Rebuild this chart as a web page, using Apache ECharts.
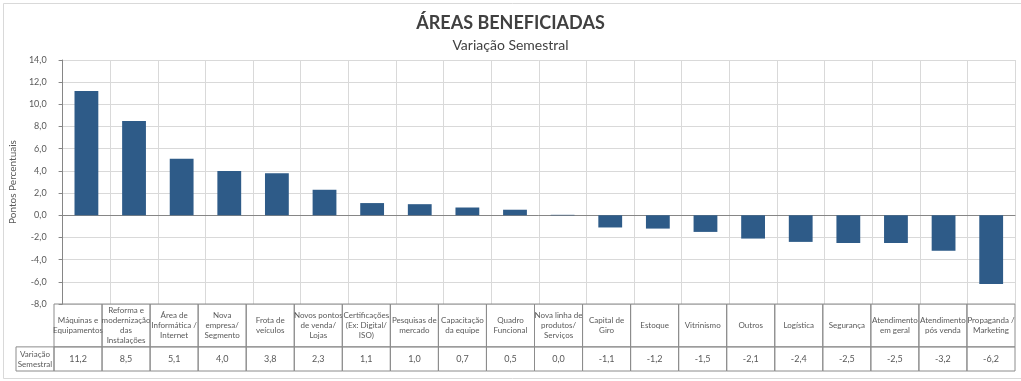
<!DOCTYPE html>
<html>
<head>
<meta charset="utf-8">
<script src="https://cdn.jsdelivr.net/npm/echarts@6/dist/echarts.min.js"></script>
<style>
html,body{margin:0;padding:0;background:#fff;}
#c{width:1021px;height:381px;}
</style>
</head>
<body>
<div id="c"></div>
<script>
const categories = [
  'Máquinas e\nEquipamentos',
  'Reforma e\nmodernização\ndas\nInstalações',
  'Área de\nInformática /\nInternet',
  'Nova\nempresa/\nSegmento',
  'Frota de\nveículos',
  'Novos pontos\nde venda/\nLojas',
  'Certificações\n(Ex: Digital/\nISO)',
  'Pesquisas de\nmercado',
  'Capacitação\nda equipe',
  'Quadro\nFuncional',
  'Nova linha de\nprodutos/\nServiços',
  'Capital de\nGiro',
  'Estoque',
  'Vitrinismo',
  'Outros',
  'Logística',
  'Segurança',
  'Atendimento\nem geral',
  'Atendimento\npós venda',
  'Propaganda /\nMarketing'
];
const variacao = [11.2, 8.5, 5.1, 4.0, 3.8, 2.3, 1.1, 1.0, 0.7, 0.5, 0.04, -1.1, -1.2, -1.5, -2.1, -2.4, -2.5, -2.5, -3.2, -6.2];
const seriesName = 'Variação\nSemestral';
const titleText = 'ÁREAS BENEFICIADAS';
const subtitleText = 'Variação Semestral';
const yAxisName = 'Pontos Percentuais';
const yMin = -8, yMax = 14, yStep = 2;

const FONT = 'Lato, "Liberation Sans", sans-serif';
const fmt = v => v.toFixed(1).replace('.', ',');

const chart = echarts.init(document.getElementById('c'), null, {renderer: 'canvas'});

const tableData = categories.map((c, i) => [i, c, variacao[i]]);
const VALUE_ROW = 0.36; // fraction of the table height used by the value row

chart.setOption({
  animation: false,
  backgroundColor: '#ffffff',
  graphic: [{
    type: 'rect', left: 1, top: 1,
    shape: {width: 1018, height: 375},
    style: {fill: 'none', stroke: '#D9D9D9', lineWidth: 1}
  }],
  title: {
    text: titleText,
    subtext: subtitleText,
    left: 'center',
    top: 9,
    itemGap: 6,
    textStyle: {fontFamily: FONT, fontSize: 18, fontWeight: 'bold', color: '#404040'},
    subtextStyle: {fontFamily: FONT, fontSize: 14, color: '#404040'}
  },
  grid: [
    {left: 54, right: 6, top: 60, bottom: 77},
    {left: 54, right: 6, top: 304, height: 67}
  ],
  xAxis: [
    {
      gridIndex: 0, type: 'category', data: categories,
      axisLine: {onZero: true, lineStyle: {color: '#868686', width: 1}},
      axisTick: {show: false},
      axisLabel: {show: false},
      splitLine: {show: true, interval: 0, lineStyle: {color: '#D9D9D9'}}
    },
    {
      gridIndex: 1, type: 'category', data: categories,
      axisLine: {show: false}, axisTick: {show: false}, axisLabel: {show: false},
      splitLine: {show: false}
    }
  ],
  yAxis: [
    {
      gridIndex: 0, type: 'value', min: yMin, max: yMax, interval: yStep,
      name: yAxisName, nameLocation: 'middle', nameGap: 31, nameRotate: 90,
      nameTextStyle: {fontFamily: FONT, fontSize: 10, color: '#595959'},
      axisLine: {show: true, lineStyle: {color: '#868686'}},
      axisTick: {show: true, length: 4, lineStyle: {color: '#868686'}},
      axisLabel: {fontFamily: FONT, fontSize: 9, color: '#595959', margin: 16, formatter: v => fmt(v)},
      splitLine: {show: true, lineStyle: {color: '#D9D9D9'}}
    },
    {
      gridIndex: 1, type: 'value', min: 0, max: 1,
      axisLine: {show: false}, axisTick: {show: false}, axisLabel: {show: false}, splitLine: {show: false}
    }
  ],
  series: [
    {
      type: 'bar', xAxisIndex: 0, yAxisIndex: 0,
      data: variacao, barWidth: '50%',
      itemStyle: {color: '#2E5B88'}
    },
    {
      type: 'custom', xAxisIndex: 1, yAxisIndex: 1,
      data: tableData,
      encode: {x: 0, y: -1},
      renderItem: function (params, api) {
        const i = api.value(0);
        const top = api.coord([i, 1]);
        const split = api.coord([i, VALUE_ROW]);
        const bot = api.coord([i, 0]);
        const w = api.size([1, 0])[0];
        const x0 = top[0] - w / 2;
        const label = categories[i];
        const val = variacao[i];
        const stroke = '#8C8C8C';
        const children = [
          {type: 'rect', shape: {x: x0, y: top[1], width: w, height: split[1] - top[1]},
           style: {fill: 'none', stroke: stroke, lineWidth: 1}},
          {type: 'rect', shape: {x: x0, y: split[1], width: w, height: bot[1] - split[1]},
           style: {fill: 'none', stroke: stroke, lineWidth: 1}},
          {type: 'text', style: {x: top[0], y: (top[1] + split[1]) / 2, text: label,
            align: 'center', verticalAlign: 'middle', fontFamily: FONT, fontSize: 8,
            lineHeight: 10, fill: '#595959'}},
          {type: 'text', style: {x: top[0], y: (split[1] + bot[1]) / 2, text: fmt(val),
            align: 'center', verticalAlign: 'middle', fontFamily: FONT, fontSize: 9,
            fill: '#595959'}}
        ];
        if (i === 0) {
          const hx = x0 - 38;
          children.push(
            {type: 'rect', shape: {x: hx, y: split[1], width: 38, height: bot[1] - split[1]},
             style: {fill: 'none', stroke: stroke, lineWidth: 1}},
            {type: 'text', style: {x: hx + 19, y: (split[1] + bot[1]) / 2, text: seriesName,
              align: 'center', verticalAlign: 'middle', fontFamily: FONT, fontSize: 8,
              lineHeight: 10, fill: '#595959'}}
          );
        }
        return {type: 'group', children: children};
      },
      z: 10
    }
  ]
});
</script>
</body>
</html>
